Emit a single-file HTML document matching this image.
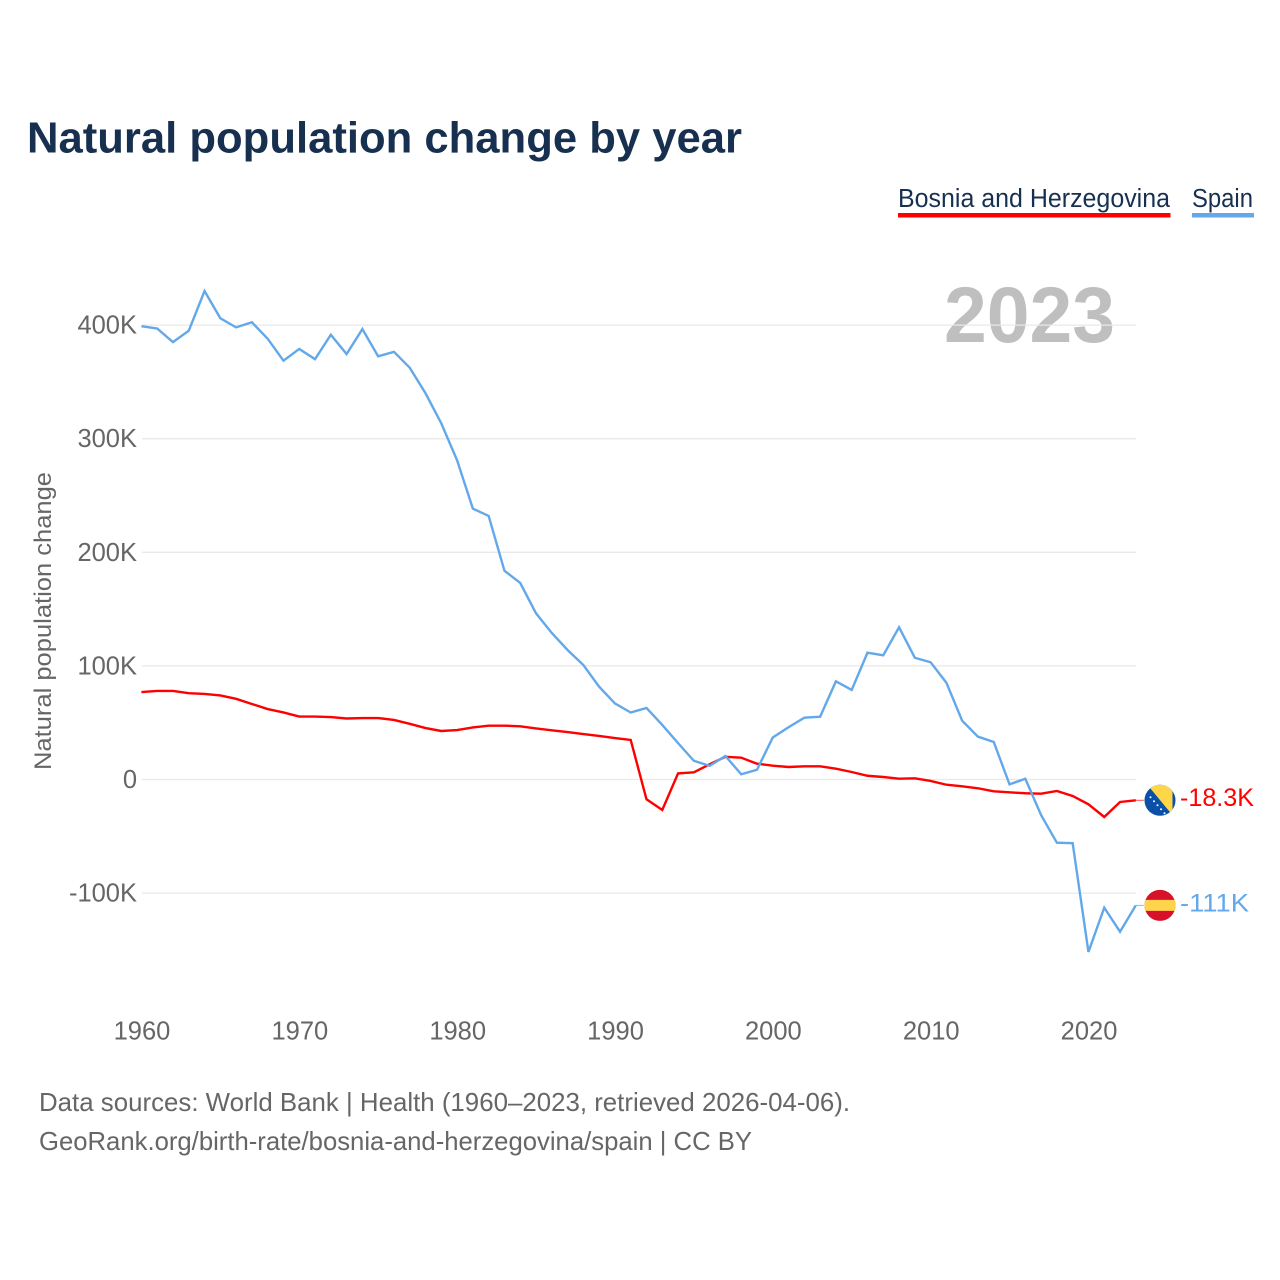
<!DOCTYPE html>
<html lang="en">
<head>
<meta charset="utf-8">
<title>Natural population change by year</title>
<style>
html,body{margin:0;padding:0;background:#fff;}
svg{display:block;}
text{font-family:"Liberation Sans",sans-serif;}
</style>
</head>
<body>
<svg id="chart" xmlns="http://www.w3.org/2000/svg" width="1280" height="1280" viewBox="0 0 1280 1280">
  <rect x="0" y="0" width="1280" height="1280" fill="#ffffff"/>
  <text x="27" y="152.5" font-size="44" font-weight="700" fill="#17304f" textLength="715" lengthAdjust="spacingAndGlyphs">Natural population change by year</text>

  <g>
    <g>
      <text x="898" y="207" font-size="25.5" fill="#17304f" textLength="272" lengthAdjust="spacingAndGlyphs">Bosnia and Herzegovina</text>
      <rect x="898" y="213" width="272.5" height="4.5" fill="#ff0000"/>
    </g>
    <g>
      <text x="1192" y="207" font-size="25.5" fill="#17304f" textLength="61" lengthAdjust="spacingAndGlyphs">Spain</text>
      <rect x="1192" y="213" width="62" height="4.5" fill="#62a8ea"/>
    </g>
  </g>

  <text x="944" y="342" font-size="79" font-weight="700" fill="#bfbfbf" textLength="171" lengthAdjust="spacingAndGlyphs">2023</text>

  <g id="grid"></g>
  <g id="yticks"></g>
  <g id="xticks"></g>

  <text transform="translate(51 770) rotate(-90)" font-size="24" fill="#666666" textLength="298" lengthAdjust="spacingAndGlyphs">Natural population change</text>

  <g id="series"></g>
  <g id="ends"></g>

  <defs>
    <clipPath id="flagClip"><circle cx="0" cy="0" r="15.5"/></clipPath>
  </defs>

  <text x="39" y="1111" font-size="26" fill="#666666" textLength="811" lengthAdjust="spacingAndGlyphs">Data sources: World Bank | Health (1960–2023, retrieved 2026-04-06).</text>
  <text x="39" y="1150" font-size="26" fill="#666666" textLength="713" lengthAdjust="spacingAndGlyphs">GeoRank.org/birth-rate/bosnia-and-herzegovina/spain | CC BY</text>
</svg>
<script>
const years = [1960,1961,1962,1963,1964,1965,1966,1967,1968,1969,1970,1971,1972,1973,1974,1975,1976,1977,1978,1979,1980,1981,1982,1983,1984,1985,1986,1987,1988,1989,1990,1991,1992,1993,1994,1995,1996,1997,1998,1999,2000,2001,2002,2003,2004,2005,2006,2007,2008,2009,2010,2011,2012,2013,2014,2015,2016,2017,2018,2019,2020,2021,2022,2023];
const spainValues = [399,397,385,395,430,406,398,402.5,388,368.7,379,370,391.5,374.5,396.5,372.5,376.5,362.5,340,313.5,281,238.4,232,183.8,173,146.3,129,114,100.8,81.7,67,59,63,48,32,16.5,12,20.7,4.6,8.6,37,46,54.4,55.3,86.4,78.8,111.6,109.3,134,107.2,103.2,85.2,51.8,37.7,33,-4.3,0.7,-31.3,-55.6,-56,-151.8,-112.8,-134,-110.8];
const bosniaValues = [77,78,78,76,75.3,74,71,66.5,62,59,55.4,55.4,55,53.7,54.1,54.1,52.4,49,45.3,42.7,43.5,45.8,47.4,47.4,46.8,45,43.3,41.8,40,38.3,36.5,34.8,-17.4,-26.8,5.4,6.3,13.4,20,19.2,13.9,12.2,11,11.6,11.6,9.5,6.6,3.3,2.2,0.7,1,-1.3,-4.6,-6,-7.7,-10.4,-11.3,-12.1,-12.5,-10.1,-14.5,-21.8,-33,-19.8,-18.3];
const yTickValues = [400,300,200,100,0,-100];
const yTickLabels = ["400K","300K","200K","100K","0","-100K"];
const xTickValues = [1960,1970,1980,1990,2000,2010,2020];
const bosniaEndLabel = "-18.3K";
const spainEndLabel = "-111K";

const NS = "http://www.w3.org/2000/svg";
const xScale = function (year) { return 141.4 + (year - 1960) * (1135.8 - 141.4) / 63; };
const yScale = function (v) { return 779.5 - v * 1.136; };

function make(tag, parent, attrs) {
  const el = document.createElementNS(NS, tag);
  for (const k in attrs) el.setAttribute(k, attrs[k]);
  parent.appendChild(el);
  return el;
}

const grid = document.getElementById("grid");
const yticks = document.getElementById("yticks");
const xticks = document.getElementById("xticks");
const series = document.getElementById("series");
const ends = document.getElementById("ends");

yTickValues.forEach(function (v, i) {
  const line = make("line", grid, {x1: 142, x2: 1136, y1: yScale(v), y2: yScale(v), stroke: "#e9e9e9", "stroke-width": 1.3});
  
  
  const t = make("text", yticks, {x: 137, y: yScale(v) + 8.5, "text-anchor": "end", "font-size": 25.5, fill: "#666666"});
  
  
  t.textContent = yTickLabels[i];
});

xTickValues.forEach(function (y) {
  const t = make("text", xticks, {x: xScale(y) + 0.6, y: 1039.5, "text-anchor": "middle", "font-size": 25.5, fill: "#666666"});
  
  
  t.textContent = String(y);
});

function pathFor(values) {
  return values.map(function (v, i) {
    return (i ? "L" : "M") + xScale(years[i]).toFixed(2) + " " + yScale(v).toFixed(2);
  }).join(" ");
}

const bosniaLine = make("path", series, {d: pathFor(bosniaValues), fill: "none", stroke: "#ff0000", "stroke-width": 2.4, "stroke-linejoin": "miter"});


const spainLine = make("path", series, {d: pathFor(spainValues), fill: "none", stroke: "#62a8ea", "stroke-width": 2.4, "stroke-linejoin": "miter"});



const lastX = xScale(years[years.length - 1]);
const bosniaY = yScale(bosniaValues[bosniaValues.length - 1]);
const spainY = yScale(spainValues[spainValues.length - 1]);

const bosniaStub = make("line", ends, {x1: lastX, x2: lastX + 8, y1: bosniaY, y2: bosniaY, stroke: "#ff0000", "stroke-width": 1, opacity: 0.7});


const spainStub = make("line", ends, {x1: lastX, x2: lastX + 8, y1: spainY, y2: spainY, stroke: "#62a8ea", "stroke-width": 1, opacity: 0.8});



const bosniaFlag = make("g", ends, {transform: "translate(1160 " + bosniaY + ")", "clip-path": "url(#flagClip)"});


make("rect", bosniaFlag, {x: -16, y: -16, width: 32, height: 32, fill: "#0a4fa8"});
make("polygon", bosniaFlag, {points: "-13,-16 12.5,-16 12.5,15", fill: "#ffd648"});
[[-9.5,-3],[-6,1],[-2.5,5],[1,9],[4.5,13]].forEach(function (p) {
  make("circle", bosniaFlag, {cx: p[0], cy: p[1], r: 1, fill: "#ffffff"});
});

const spainFlag = make("g", ends, {transform: "translate(1160 " + spainY + ")", "clip-path": "url(#flagClip)"});


make("rect", spainFlag, {x: -16, y: -16, width: 32, height: 32, fill: "#d8102a"});
make("rect", spainFlag, {x: -16, y: -5.5, width: 32, height: 11, fill: "#ffd34d"});

const bosniaValueLabel = make("text", ends, {x: 1180, y: bosniaY + 5.5, "font-size": 25, fill: "#ff0000", textLength: 74, lengthAdjust: "spacingAndGlyphs"});


bosniaValueLabel.textContent = bosniaEndLabel;

const spainValueLabel = make("text", ends, {x: 1180, y: spainY + 6, "font-size": 25, fill: "#62a8ea", textLength: 69, lengthAdjust: "spacingAndGlyphs"});


spainValueLabel.textContent = spainEndLabel;
</script>
</body>
</html>
